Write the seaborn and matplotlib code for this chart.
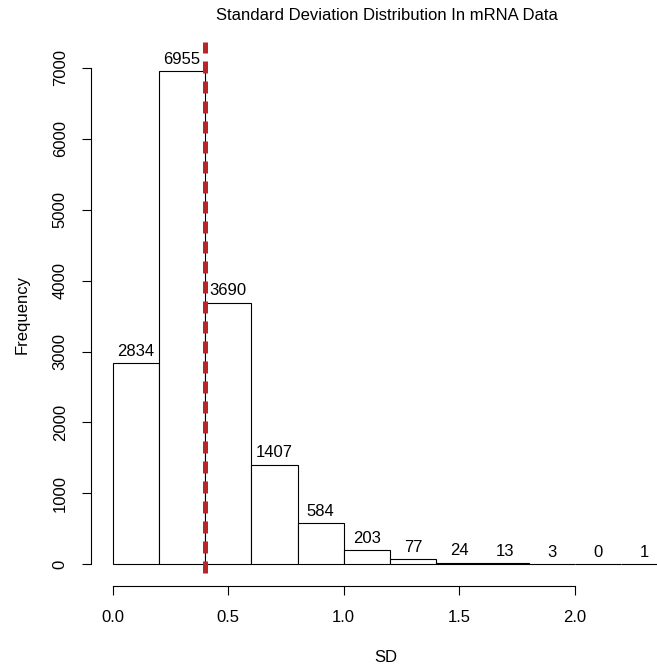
import matplotlib
matplotlib.use("Agg")
import matplotlib.pyplot as plt
import seaborn as sns
import numpy as np

# Histogram of per-gene standard deviations (pre-binned counts)
bin_edges = [0.0, 0.2, 0.4, 0.6, 0.8, 1.0, 1.2, 1.4, 1.6, 1.8, 2.0, 2.2, 2.4]
bin_counts = [2834, 6955, 3690, 1407, 584, 203, 77, 24, 13, 3, 0, 1]
cutoff_sd = 0.4

x_ticks = [0.0, 0.5, 1.0, 1.5, 2.0]
x_tick_labels = ["0.0", "0.5", "1.0", "1.5", "2.0"]
y_ticks = [0, 1000, 2000, 3000, 4000, 5000, 6000, 7000]

title_text = "Standard Deviation Distribution In mRNA Data"
x_label = "SD"
y_label = "Frequency"

sns.set_style("white")
plt.rcParams["font.family"] = ["Liberation Sans", "DejaVu Sans"]
plt.rcParams["text.color"] = "black"
plt.rcParams["xtick.color"] = "black"
plt.rcParams["ytick.color"] = "black"
plt.rcParams["axes.labelcolor"] = "black"

FS = 12

W, H = 657, 667
fig = plt.figure(figsize=(W / 100, H / 100), dpi=100)
left_px, right_px, top_px, bottom_px = 90.7, 657, 42, 585.7
ax = fig.add_axes([left_px / W, 1 - bottom_px / H,
                   (right_px - left_px) / W, (bottom_px - top_px) / H])

centers = [(a + b) / 2 for a, b in zip(bin_edges[:-1], bin_edges[1:])]
sns.histplot(x=centers, weights=bin_counts, bins=bin_edges, ax=ax,
             stat="count", color="white", edgecolor="black",
             linewidth=0.8, alpha=1.0)

ax.bar_label(ax.containers[0], labels=[str(c) for c in bin_counts],
             padding=3, fontsize=FS, color="black")

ax.set_xlim(-0.0953, 2.356)
ax.set_ylim(-302, 7365)

# dashed reference line at the chosen SD cutoff
ymin_frac = (-123 + 302) / (7365 + 302)
ax.axvline(cutoff_sd, ymin=ymin_frac, ymax=1.0, color="#B8262A",
           linewidth=3.6, linestyle=(0, (2.4, 1.6)), dash_capstyle="butt",
           zorder=5)

for s in ["top", "right"]:
    ax.spines[s].set_visible(False)
for s in ["left", "bottom"]:
    ax.spines[s].set_color("black")
    ax.spines[s].set_linewidth(0.8)
ax.spines["left"].set_bounds(0, 7000)
ax.spines["bottom"].set_bounds(0, 2.0)

ax.set_xticks(x_ticks)
ax.set_xticklabels(x_tick_labels)
ax.set_yticks(y_ticks)
ax.set_yticklabels([str(v) for v in y_ticks], rotation=90, va="center")
ax.tick_params(axis="x", length=6.7, width=0.8, color="black",
               labelcolor="black", pad=11, labelsize=FS, bottom=True)
ax.tick_params(axis="y", length=6.5, width=0.8, color="black",
               labelcolor="black", pad=10, labelsize=FS, left=True)
ax.set_xlabel("")
ax.set_ylabel("")

fig.text(387 / W, 1 - 15 / H, title_text, ha="center", va="center",
         fontsize=FS, color="black")
fig.text(386 / W, 1 - 658 / H, x_label, ha="center", va="center",
         fontsize=FS, color="black")
fig.text(21.7 / W, 1 - 314 / H, y_label, ha="center", va="center",
         rotation=90, fontsize=FS, color="black")

fig.savefig("out.png", dpi=100)
